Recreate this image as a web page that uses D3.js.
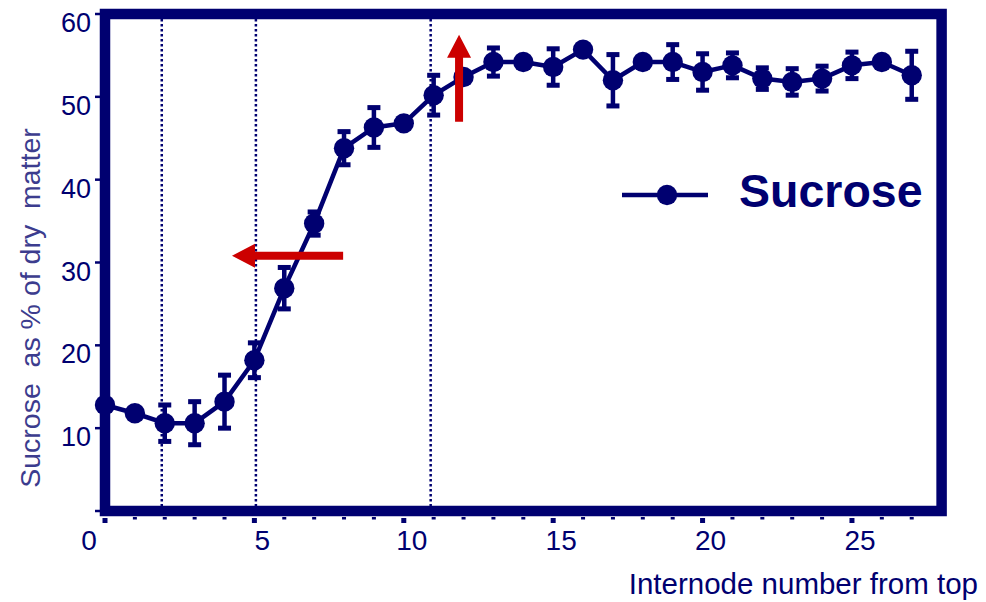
<!DOCTYPE html>
<html>
<head>
<meta charset="utf-8">
<script src="https://cdn.jsdelivr.net/npm/d3@7"></script>
<style>
  body { margin: 0; background: #fff; }
  text { font-family: "Liberation Sans", Arial, sans-serif; }
</style>
</head>
<body>
<div id="chart"></div>
<script>
const internode = [0, 1, 2, 3, 4, 5, 6, 7, 8, 9, 10, 11, 12, 13, 14, 15, 16, 17, 18, 19, 20, 21, 22, 23, 24, 25, 26, 27];
const sucrose = [12.8, 11.8, 10.6, 10.6, 13.2, 18.2, 26.9, 34.7, 43.8, 46.3, 46.8, 50.2, 52.4, 54.2, 54.2, 53.6, 55.7, 52.0, 54.2, 54.2, 53.0, 53.8, 52.2, 51.8, 52.2, 53.8, 54.2, 52.6];
// 0 = bar hidden behind the marker
const sucroseErr = [0, 0, 2.2, 2.6, 3.2, 2.1, 2.5, 1.4, 2.0, 2.4, 0, 2.4, 0, 1.7, 0, 2.2, 0, 3.1, 0, 2.1, 2.2, 1.5, 1.3, 1.6, 1.5, 1.6, 0, 2.9];
const xTicks = [0, 5, 10, 15, 20, 25];
const yTicks = [0, 10, 20, 30, 40, 50, 60];
const guides = [1.9, 5.05, 10.9];
// red arrows, in data units: [from, to]
const arrowLeft = { x: [7.97, 4.25], y: 30.8 };
const arrowUp = { x: 11.85, y: [47.0, 57.5] };

const navy = "#000070";
const red = "#cc0000";

const svg = d3
  .select("#chart")
  .append("svg")
  .attr("width", 986)
  .attr("height", 602);

const x = d3.scaleLinear().domain([0, 28]).range([105, 941.6]);
const y = d3.scaleLinear().domain([0, 60]).range([511, 14]);

// frame
svg
  .append("rect")
  .attr("x", x(0))
  .attr("y", y(60))
  .attr("width", x(28) - x(0))
  .attr("height", y(0) - y(60))
  .attr("fill", "none")
  .attr("stroke", navy)
  .attr("stroke-width", 10.5);

// dotted guides
svg
  .selectAll(".guide")
  .data(guides)
  .join("line")
  .attr("class", "guide")
  .attr("x1", (d) => x(d))
  .attr("x2", (d) => x(d))
  .attr("y1", y(60) + 5)
  .attr("y2", y(0) - 5)
  .attr("stroke", navy)
  .attr("stroke-width", 2.5)
  .attr("stroke-dasharray", "2.5,2.5");

// x ticks (minor every unit, major every 5)
svg
  .selectAll(".xtick")
  .data(internode)
  .join("rect")
  .attr("class", "xtick")
  .attr("x", (d) => x(d) - (d % 5 == 0 ? 2.5 : 2))
  .attr("y", (d) => (d % 5 == 0 ? 518 : 517))
  .attr("width", (d) => (d % 5 == 0 ? 5 : 4))
  .attr("height", (d) => (d % 5 == 0 ? 5 : 2.5))
  .attr("fill", navy);

svg
  .selectAll(".xlabel")
  .data(xTicks)
  .join("text")
  .attr("class", "xlabel")
  .attr("x", (d) => x(d) + (d == 0 ? -16 : 8))
  .attr("y", 550)
  .attr("text-anchor", "middle")
  .attr("font-size", 28)
  .attr("fill", navy)
  .text((d) => d);

// y ticks
svg
  .selectAll(".ytick")
  .data(yTicks)
  .join("line")
  .attr("class", "ytick")
  .attr("x1", 95)
  .attr("x2", 100)
  .attr("y1", (d) => y(d))
  .attr("y2", (d) => y(d))
  .attr("stroke", navy)
  .attr("stroke-width", 2.5);

svg
  .selectAll(".ylabel")
  .data(yTicks.filter((d) => d > 0))
  .join("text")
  .attr("class", "ylabel")
  .attr("x", 91)
  .attr("y", (d) => y(d) + 18)
  .attr("text-anchor", "end")
  .attr("font-size", 27)
  .attr("fill", navy)
  .text((d) => d);

// axis titles
svg
  .append("text")
  .attr("x", 978)
  .attr("y", 594)
  .attr("text-anchor", "end")
  .attr("font-size", 29.5)
  .attr("fill", navy)
  .text("Internode number from top");

svg
  .append("text")
  .attr("transform", "translate(40,308) rotate(-90)")
  .attr("text-anchor", "middle")
  .attr("font-size", 28.5)
  .attr("fill", "#3c3c8e")
  .style("white-space", "pre")
  .text("Sucrose  as % of dry  matter");

// series
const pts = internode.map((d, i) => ({ n: d, v: sucrose[i], e: sucroseErr[i] }));

svg
  .append("path")
  .datum(pts)
  .attr("fill", "none")
  .attr("stroke", navy)
  .attr("stroke-width", 4.5)
  .attr("stroke-linejoin", "round")
  .attr("d", d3.line().x((d) => x(d.n)).y((d) => y(d.v)));

const bars = svg
  .selectAll(".err")
  .data(pts.filter((d) => d.e > 0))
  .join("g")
  .attr("class", "err");

bars
  .append("line")
  .attr("x1", (d) => x(d.n))
  .attr("x2", (d) => x(d.n))
  .attr("y1", (d) => y(d.v + d.e))
  .attr("y2", (d) => y(d.v - d.e))
  .attr("stroke", navy)
  .attr("stroke-width", 4.5);

bars
  .append("rect")
  .attr("x", (d) => x(d.n) - 6.5)
  .attr("y", (d) => y(d.v + d.e) - 2.5)
  .attr("width", 13)
  .attr("height", 5)
  .attr("fill", navy);

bars
  .append("rect")
  .attr("x", (d) => x(d.n) - 6.5)
  .attr("y", (d) => y(d.v - d.e) - 2.5)
  .attr("width", 13)
  .attr("height", 5)
  .attr("fill", navy);

svg
  .selectAll(".dot")
  .data(pts)
  .join("circle")
  .attr("class", "dot")
  .attr("cx", (d) => x(d.n))
  .attr("cy", (d) => y(d.v))
  .attr("r", 10.2)
  .attr("fill", navy);

// legend
svg
  .append("line")
  .attr("x1", 622)
  .attr("x2", 708)
  .attr("y1", 195)
  .attr("y2", 195)
  .attr("stroke", navy)
  .attr("stroke-width", 4.5);

svg
  .append("circle")
  .attr("cx", 667)
  .attr("cy", 195)
  .attr("r", 10.2)
  .attr("fill", navy);

svg
  .append("text")
  .attr("x", 739)
  .attr("y", 207)
  .attr("font-size", 46.5)
  .attr("font-weight", "bold")
  .attr("fill", navy)
  .text("Sucrose");

// red arrows
function arrow(x0, y0, x1, y1) {
  const len = Math.hypot(x1 - x0, y1 - y0);
  const ang = (Math.atan2(y1 - y0, x1 - x0) * 180) / Math.PI;
  svg
    .append("path")
    .attr("transform", `translate(${x0},${y0}) rotate(${ang})`)
    .attr(
      "d",
      `M0,-4 L${len - 23},-4 L${len - 23},-12 L${len},0 L${len - 23},12 L${len - 23},4 L0,4 Z`
    )
    .attr("fill", red);
}

arrow(x(arrowLeft.x[0]), y(arrowLeft.y), x(arrowLeft.x[1]), y(arrowLeft.y));
arrow(x(arrowUp.x), y(arrowUp.y[0]), x(arrowUp.x), y(arrowUp.y[1]));
</script>
</body>
</html>
